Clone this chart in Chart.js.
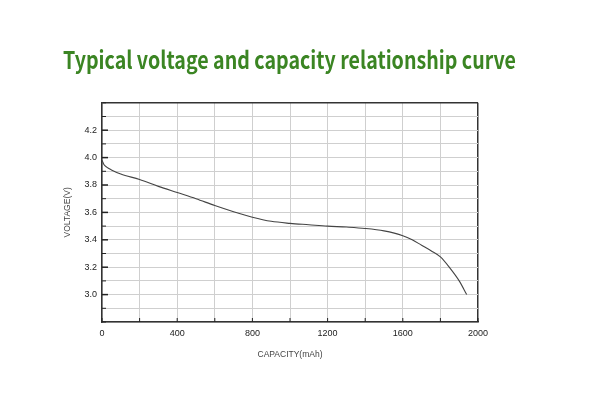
<!DOCTYPE html>
<html>
<head>
<meta charset="utf-8">
<script src="https://cdn.jsdelivr.net/npm/chart.js@4"></script>
<style>
  html, body { margin: 0; padding: 0; background: #fff; }
  #wrap { width: 600px; height: 400px; }
</style>
</head>
<body>
<div id="wrap"><canvas id="chart1" width="600" height="400"></canvas></div>
<script>
// capacity (mAh) and voltage (V)
var capacity = [0, 10, 25, 50, 100, 200, 300, 400, 500, 600, 700, 800, 900, 1000,
                1100, 1200, 1300, 1400, 1500, 1600, 1650, 1700, 1750, 1800, 1850, 1900, 1940];
var voltage  = [3.98, 3.95, 3.93, 3.91, 3.88, 3.84, 3.79, 3.745, 3.70, 3.65, 3.605, 3.565, 3.535, 3.52,
                3.51, 3.50, 3.493, 3.483, 3.465, 3.43, 3.40, 3.36, 3.32, 3.275, 3.195, 3.10, 3.0];
var xLabels = [0, 400, 800, 1200, 1600, 2000];
var yLabels = [3.0, 3.2, 3.4, 3.6, 3.8, 4.0, 4.2];

var points = capacity.map(function (c, i) { return { x: c, y: voltage[i] }; });

function near(v, list) {
    return list.some(function (l) { return Math.abs(l - v) < 1e-6; });
}

// short tick marks drawn inside the frame, like the original plot
var innerTicks = {
    id: 'innerTicks',
    afterDatasetsDraw: function (chart) {
        var c = chart.ctx, a = chart.chartArea;
        var xs = chart.scales.x, ys = chart.scales.y;
        c.save();
        c.strokeStyle = '#222';
        ys.ticks.forEach(function (t) {
            var y = ys.getPixelForValue(t.value);
            var big = near(t.value, yLabels);
            c.lineWidth = big ? 1.5 : 1;
            c.beginPath();
            c.moveTo(a.left, y);
            c.lineTo(a.left + (big ? 6 : 4), y);
            c.stroke();
        });
        xs.ticks.forEach(function (t) {
            var x = xs.getPixelForValue(t.value);
            c.lineWidth = 1;
            c.beginPath();
            c.moveTo(x, a.bottom);
            c.lineTo(x, a.bottom - 4);
            c.stroke();
        });
        c.restore();
    }
};

var ctx = document.getElementById('chart1').getContext('2d');
var chart = new Chart(ctx, {
    type: 'line',
    data: {
        datasets: [{
            label: 'Voltage',
            data: points,
            borderColor: '#444',
            borderWidth: 1.1,
            pointRadius: 0,
            cubicInterpolationMode: 'monotone',
            fill: false
        }]
    },
    options: {
        responsive: false,
        animation: false,
        // title box is 453px wide (63..516), as in the original
        layout: { padding: { left: 63, right: 84, top: 0, bottom: 40 } },
        plugins: {
            legend: { display: false },
            tooltip: { enabled: false },
            title: {
                display: true,
                text: 'Typical voltage and capacity relationship curve',
                align: 'start',
                color: '#3b8523',
                font: { family: '"Noto Sans CJK SC", "Noto Sans", sans-serif', size: 24, weight: 'bold' },
                padding: { top: 45, bottom: 29 }
            }
        },
        scales: {
            x: {
                type: 'linear',
                min: 0,
                max: 2000,
                afterFit: function (s) { s.height = 38; },
                ticks: {
                    stepSize: 200,
                    maxRotation: 0,
                    autoSkip: false,
                    padding: 6,
                    color: '#222',
                    font: { family: 'Liberation Sans, Arial, sans-serif', size: 9 },
                    callback: function (v) { return near(v, xLabels) ? String(v) : ''; }
                },
                grid: {
                    drawTicks: false,
                    color: function (c) { return c.tick && c.tick.value === 2000 ? '#333' : '#cfcfcf'; },
                    lineWidth: function (c) { return c.tick && c.tick.value === 2000 ? 1.5 : 1; }
                },
                border: { display: true, color: '#333', width: 1.5 },
                title: {
                    display: true,
                    text: 'CAPACITY(mAh)',
                    color: '#444',
                    padding: { top: 4, bottom: 0 },
                    font: { family: 'Liberation Sans, Arial, sans-serif', size: 8.5 }
                }
            },
            y: {
                min: 2.8,
                max: 4.4,
                afterFit: function (s) { s.width = 39; },
                ticks: {
                    stepSize: 0.1,
                    autoSkip: false,
                    padding: 5,
                    color: '#222',
                    font: { family: 'Liberation Sans, Arial, sans-serif', size: 9 },
                    callback: function (v) { return near(v, yLabels) ? v.toFixed(1) : ''; }
                },
                grid: {
                    drawTicks: false,
                    color: function (c) { return c.tick && Math.abs(c.tick.value - 4.4) < 1e-6 ? '#333' : '#cfcfcf'; },
                    lineWidth: function (c) { return c.tick && Math.abs(c.tick.value - 4.4) < 1e-6 ? 1.5 : 1; }
                },
                border: { display: true, color: '#333', width: 1.5 },
                title: {
                    display: true,
                    text: 'VOLTAGE(V)',
                    color: '#444',
                    padding: { top: 0, bottom: 2 },
                    font: { family: 'Liberation Sans, Arial, sans-serif', size: 8.5 }
                }
            },
            // empty right-hand axis that only reserves the white margin on the right
            spacer: {
                type: 'linear',
                position: 'right',
                display: true,
                afterFit: function (s) { s.width = 38; },
                ticks: { display: false },
                grid: { display: false, drawTicks: false },
                border: { display: false }
            }
        }
    },
    plugins: [innerTicks]
});
</script>
</body>
</html>
